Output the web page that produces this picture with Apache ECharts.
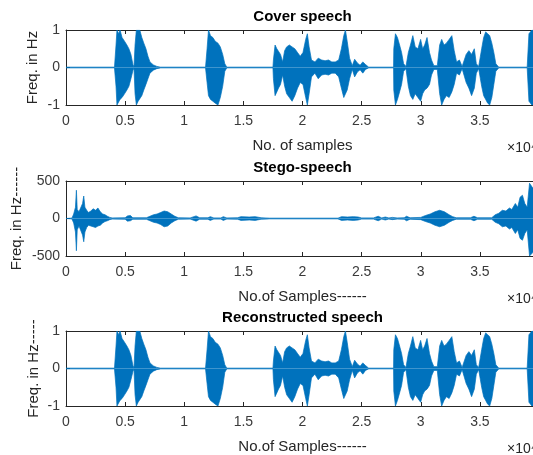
<!DOCTYPE html>
<html>
<head>
<meta charset="utf-8">
<script src="https://cdn.jsdelivr.net/npm/echarts@6/dist/echarts.min.js"></script>
<style>
html,body{margin:0;padding:0;background:#fff;}
#main{width:533px;height:455px;}
</style>
</head>
<body>
<div id="main"></div>
<script>
// envelope of cover speech (reconstructed speech looks the same)
var coverX = [0,.41,.423,.431,.446,.457,.474,.495,.515,.532,.549,.566,.575,.584,.595,.61,.624,.641,.658,.676,.693,.71,.739,.768,.8,
  1.18,1.193,1.205,1.222,1.242,1.262,1.285,1.305,1.325,1.343,1.36,
  1.75,1.754,1.768,1.783,1.797,1.814,1.832,1.849,1.866,1.889,1.912,1.935,1.958,1.981,2.004,2.027,2.041,2.056,2.076,2.105,2.133,2.162,2.191,2.22,2.248,2.277,2.306,2.329,2.349,2.363,2.378,2.398,2.421,2.441,2.464,2.487,2.51,2.533,2.56,
  2.77,2.772,2.786,2.803,2.821,2.838,2.855,2.875,2.895,2.913,2.933,2.953,2.976,2.999,3.016,3.033,3.053,3.074,3.091,3.111,3.14,3.16,3.177,3.197,3.217,3.24,3.263,3.283,3.303,3.327,3.35,3.384,3.407,3.43,3.453,3.47,3.49,3.515,3.532,3.549,3.566,3.583,3.601,3.618,3.635,3.66,
  3.9,3.915,3.94,3.97];
var coverUp = [.01,.01,.6,1,.9,1,.8,.7,.6,.5,.35,.08,.02,.6,1,.95,1,.8,.65,.5,.3,.15,.07,.03,.01,
  .01,.5,1,.85,.8,.7,.65,.55,.35,.1,.01,
  .01,.2,.6,.5,.45,.35,.15,.45,.55,.6,.55,.5,.4,.3,.4,.75,.9,.55,.2,.15,.25,.2,.18,.2,.15,.15,.2,.5,.85,1,.7,.25,.05,.22,.12,.06,.15,.08,.01,
  .01,.5,.9,.8,.6,.4,.1,.03,.4,.6,.85,.55,.5,.75,.5,.6,.8,.4,.2,.05,.05,.6,.75,.6,.65,.75,.85,.45,.15,.2,.03,.35,.45,.35,.5,.1,.03,.5,.8,.95,.9,.85,.65,.4,.1,.01,
  .01,.9,1,1];
var coverLo = [-.01,-.01,-.5,-1,-.95,-.85,-.8,-.7,-.6,-.5,-.3,-.08,-.02,-.7,-1,-.9,-.85,-.75,-.6,-.45,-.3,-.15,-.07,-.03,-.01,
  -.01,-.4,-.75,-.85,-.9,-.95,-1,-.8,-.5,-.1,-.01,
  -.01,-.3,-.75,-.65,-.55,-.45,-.2,-.5,-.7,-.8,-.9,-.75,-.55,-.4,-.45,-.8,-1,-.7,-.25,-.15,-.3,-.2,-.18,-.2,-.15,-.15,-.25,-.55,-.8,-.85,-.6,-.3,-.05,-.25,-.12,-.06,-.15,-.05,-.01,
  -.01,-.6,-1,-.85,-.65,-.45,-.1,-.03,-.5,-.75,-.85,-.7,-.8,-.9,-.7,-.6,-.55,-.45,-.2,-.05,-.05,-.7,-1,-.85,-.75,-.8,-.65,-.45,-.15,-.2,-.03,-.4,-.55,-.75,-.55,-.15,-.03,-.5,-.75,-.85,-.95,-1,-.8,-.45,-.1,-.01,
  -.01,-.9,-1,-1];

// envelope of stego speech
var stegoX = [0,.05,.065,.08,.088,.095,.11,.125,.14,.15,.16,.175,.19,.21,.23,.25,.27,.29,.31,.33,.35,.37,.39,.5,.52,.545,.565,.68,.71,.74,.77,.8,.83,.86,.89,.92,.95,
  1.05,1.1,1.13,1.2,1.22,1.25,1.31,1.33,1.36,1.45,1.48,1.55,1.6,1.65,1.72,2.3,2.33,2.38,2.43,2.47,2.5,2.6,2.64,2.67,2.7,2.73,2.76,2.8,2.86,2.88,2.91,
  3.0,3.04,3.08,3.12,3.16,3.2,3.24,3.27,3.3,3.42,3.45,3.48,3.6,3.63,3.66,3.69,3.72,3.75,3.77,3.8,3.82,3.84,3.86,3.88,3.9,3.92,3.95];
var stegoUp = [0,5,60,150,377,120,90,100,200,300,150,110,80,100,130,110,140,90,60,50,30,15,8,10,35,40,10,10,30,50,60,80,100,90,60,30,10,
  8,35,10,10,25,8,8,25,8,10,25,20,25,10,5,5,25,20,25,20,8,8,30,8,20,8,15,8,10,30,10,
  15,40,60,90,110,90,50,25,10,10,30,10,10,50,70,110,100,140,120,200,150,285,310,200,150,470,400];
var stegoLo = [0,-5,-60,-180,-430,-150,-100,-120,-220,-310,-180,-120,-90,-100,-110,-120,-100,-90,-60,-40,-30,-15,-8,-10,-35,-30,-10,-10,-30,-50,-60,-80,-110,-100,-60,-30,-10,
  -8,-35,-10,-10,-25,-8,-8,-25,-8,-10,-25,-20,-25,-10,-5,-5,-25,-20,-25,-20,-8,-8,-30,-8,-20,-8,-15,-8,-10,-30,-10,
  -15,-40,-60,-90,-110,-90,-50,-25,-10,-10,-30,-10,-10,-50,-70,-110,-100,-140,-120,-200,-150,-265,-290,-200,-150,-500,-450];

var titles = ['Cover speech', 'Stego-speech', 'Reconstructed speech'];
var xNames = ['No. of samples', 'No.of Samples------', 'No.of Samples------'];
var yNames = ['Freq. in Hz', 'Freq. in Hz------', 'Freq. in Hz-----'];

var blue = '#0072BD';
var ink = '#262626';
var font = 'Liberation Sans, Arial, sans-serif';
var tops = [30, 181, 331];
var boxH = 75;
var left = 66;
var boxW = 473;

var chart = echarts.init(document.getElementById('main'));

function pairs(xs, ys) {
  return xs.map(function (x, i) { return [x, ys[i]]; });
}

var grids = [], xAxes = [], yAxes = [], series = [], graphics = [];
var sets = [
  {up: pairs(coverX, coverUp), lo: pairs(coverX, coverLo), yMax: 1, yInt: 1, yLab: 33},
  {up: pairs(stegoX, stegoUp), lo: pairs(stegoX, stegoLo), yMax: 500, yInt: 500, yLab: 17},
  {up: pairs(coverX, coverUp), lo: pairs(coverX, coverLo), yMax: 1, yInt: 1, yLab: 34}
];

sets.forEach(function (s, i) {
  grids.push({left: left, top: tops[i], width: boxW, height: boxH, show: false,
    containLabel: false, outerBoundsMode: 'none'});
  xAxes.push({
    type: 'value', gridIndex: i, min: 0, max: 4, interval: 0.5, position: 'bottom',
    axisLine: {show: true, onZero: false, lineStyle: {color: ink, width: 1}},
    axisTick: {show: true, inside: true, length: 4, lineStyle: {color: ink}},
    axisLabel: {color: '#3a3a3a', fontSize: 14, fontFamily: font, margin: 9},
    splitLine: {show: false}
  });
  xAxes.push({
    type: 'value', gridIndex: i, min: 0, max: 4, interval: 0.5, position: 'top',
    axisLine: {show: true, onZero: false, lineStyle: {color: ink, width: 1}},
    axisTick: {show: true, inside: true, length: 4, lineStyle: {color: ink}},
    axisLabel: {show: false}, splitLine: {show: false}
  });
  yAxes.push({
    type: 'value', gridIndex: i, min: -s.yMax, max: s.yMax, interval: s.yInt,
    axisLine: {show: true, lineStyle: {color: ink, width: 1}},
    axisTick: {show: true, inside: true, length: 4, lineStyle: {color: ink}},
    axisLabel: {color: '#3a3a3a', fontSize: 14, fontFamily: font, margin: 6},
    splitLine: {show: false}
  });
  [s.up, s.lo].forEach(function (d) {
    series.push({
      type: 'line', xAxisIndex: i * 2, yAxisIndex: i, data: d,
      symbol: 'none', smooth: false, sampling: null, silent: true,
      lineStyle: {color: blue, width: 0.7},
      areaStyle: {color: blue, opacity: 1}
    });
  });
  var mid = left + boxW / 2;
  graphics.push({type: 'text', x: mid, y: tops[i] - 13, style: {text: titles[i], fill: '#000', font: 'bold 15px ' + font, align: 'center', verticalAlign: 'middle'}});
  graphics.push({type: 'text', x: mid, y: tops[i] + boxH + 41, style: {text: xNames[i], fill: ink, font: '15px ' + font, align: 'center', verticalAlign: 'middle'}});
  graphics.push({type: 'text', x: s.yLab, y: tops[i] + boxH / 2, rotation: Math.PI / 2, style: {text: yNames[i], fill: ink, font: '15px ' + font, align: 'center', verticalAlign: 'middle'}});
  graphics.push({type: 'text', x: 507, y: tops[i] + boxH + 43, style: {text: '×10⁴', fill: ink, font: '14px ' + font, align: 'left', verticalAlign: 'middle'}});
});

chart.setOption({
  backgroundColor: '#fff',
  animation: false,
  grid: grids,
  xAxis: xAxes,
  yAxis: yAxes,
  series: series,
  graphic: graphics
});
</script>
</body>
</html>
